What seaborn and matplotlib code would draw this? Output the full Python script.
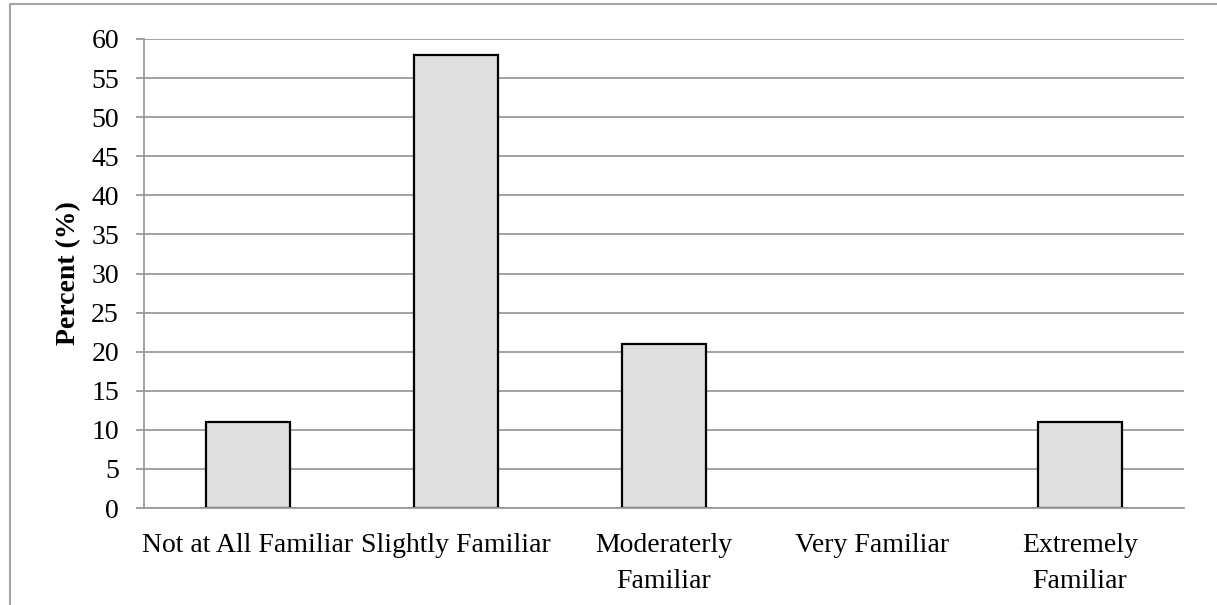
import matplotlib
matplotlib.use("Agg")
import matplotlib.pyplot as plt
from matplotlib.lines import Line2D
from matplotlib.ticker import MultipleLocator, FixedLocator
import seaborn as sns
import pandas as pd

# Familiarity responses (percent of respondents)
categories = ["Not at All Familiar", "Slightly Familiar", "Moderaterly\nFamiliar",
              "Very Familiar", "Extremely\nFamiliar"]
percent = [11, 58, 21, 0, 11]

df = pd.DataFrame({"Familiarity": categories, "Percent": percent})

sns.set_theme(style="white")
plt.rcParams["font.family"] = ["Liberation Serif", "DejaVu Serif"]
plt.rcParams["font.size"] = 20

grid_col = "#9a9a9a"

fig = plt.figure(figsize=(12.17, 6.05), dpi=100)
ax = fig.add_axes([144 / 1217, 1 - 508 / 605, 1040 / 1217, 469 / 605])

sns.barplot(data=df, x="Familiarity", y="Percent", color="#dfdfdf",
            edgecolor="black", linewidth=1.6, width=0.4, saturation=1,
            zorder=3, ax=ax)

# an empty category gets no visible bar
for patch, val in zip(ax.patches, percent):
    if val == 0:
        patch.set_visible(False)

ax.set_xlim(-0.5, len(categories) - 0.5)
ax.set_ylim(0, 60)
ax.yaxis.set_major_locator(MultipleLocator(5))
ax.grid(axis="y", color=grid_col, linewidth=1.3, zorder=0)
ax.set_axisbelow(True)

for side in ["top", "right"]:
    ax.spines[side].set_visible(False)
for side in ["left", "bottom"]:
    ax.spines[side].set_color(grid_col)
    ax.spines[side].set_linewidth(1.3)
    ax.spines[side].set_zorder(4)

# category boundary ticks like the spreadsheet original
ax.xaxis.set_minor_locator(FixedLocator([i - 0.5 for i in range(len(categories) + 1)]))
ax.tick_params(axis="x", which="major", length=0, pad=18, labelsize=20, colors="black")
ax.tick_params(axis="x", which="minor", length=7, width=1.3, color=grid_col, direction="out")
ax.tick_params(axis="y", which="major", length=6, width=1.3, color=grid_col,
               direction="out", left=True, pad=12, labelsize=20, labelcolor="black")
for lab in ax.get_xticklabels():
    lab.set_linespacing(1.6)

ax.set_xlabel("")
ax.set_ylabel("Percent (%)", fontsize=20, fontweight="bold", color="black")
ax.yaxis.set_label_coords(-0.06, 0.5)

# partial frame of the original chart object
border = "#a6a6a6"
fig.add_artist(Line2D([10 / 1217, 10 / 1217], [0, 1 - 4 / 605], color=border, linewidth=1.5))
fig.add_artist(Line2D([10 / 1217, 1], [1 - 4 / 605, 1 - 4 / 605], color=border, linewidth=1.5))

fig.savefig("out.png", dpi=100)
